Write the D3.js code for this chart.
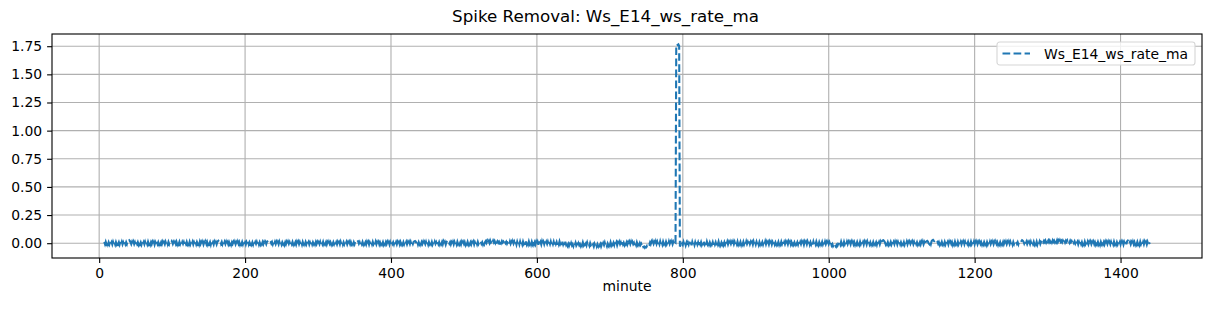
<!DOCTYPE html>
<html>
<head>
<meta charset="utf-8">
<script src="https://cdn.jsdelivr.net/npm/d3@7"></script>
<style>
  body { margin: 0; background: #fff; }
  svg { display: block; font-family: 'DejaVu Sans', sans-serif; }
</style>
</head>
<body>
<div id="chart"></div>
<script>
// values are in thousandths, one per minute starting at firstMinute
const firstMinute = 7;
const seriesName = 'Ws_E14_ws_rate_ma';

// minutes 7-529
const quietEarly = [
  11,-9,13,-7,10,-12,8,-10,14,-6,9,-11,12,-8,7,-13,10,-9,12,-7,
  9,-12,11,-6,13,-10,8,-11,12,-9,10,-7,18,24,28,20,9,-8,11,-10,
  12,-8,9,-13,11,-7,10,-11,13,-9,8,-12,11,-6,10,-10,12,-8,9,-11,
  13,-7,10,-12,9,-9,12,-6,11,-13,8,-10,14,-8,9,-11,12,-7,10,-9,
  11,-12,8,-9,13,-7,10,-11,12,-5,20,27,25,14,-6,10,-12,9,-8,12,
  -10,11,-7,13,-9,8,-12,11,-6,10,-13,9,-8,12,-10,7,-11,13,-9,10,
  -7,12,-11,9,-8,13,-10,11,-6,9,-12,14,-7,10,-9,12,-11,8,-10,13,
  -8,11,-12,9,-7,10,-13,12,-9,8,-11,13,-6,10,-10,12,20,26,29,21,
  -4,12,-10,9,-12,11,-7,13,-9,8,-11,10,-8,12,-13,9,-6,11,-10,12,
  -9,8,-11,13,-7,10,-12,9,-8,11,-10,13,-9,7,-12,10,-8,12,-11,9,
  -7,13,-10,8,-12,11,-9,10,-6,12,-11,9,-13,8,-10,12,-7,11,-9,10,
  -12,9,-8,13,20,27,30,24,15,-3,10,-11,8,-9,12,-7,11,-12,9,-10,
  13,-8,10,-11,9,-7,12,-13,8,-10,11,-9,13,-6,10,-12,9,-8,11,-10,
  12,-7,9,-12,11,-9,13,-8,10,-11,8,-13,12,-7,9,-10,11,-9,13,-6,
  10,-12,8,-9,12,-11,9,-7,13,-10,11,-8,10,-12,7,-9,12,-11,10,-8,
  13,-9,11,-7,10,-12,8,-10,12,-6,9,-11,13,-8,10,-9,11,-12,8,-10,
  12,-7,9,-11,13,-8,10,-12,9,-9,11,-6,12,-10,8,-13,10,-9,12,-7,
  11,-10,9,-8,16,23,28,25,17,-4,10,-12,9,-8,11,-10,13,-7,9,-11,
  12,-9,10,-13,8,-7,11,-10,12,-8,9,-12,13,-9,10,-6,11,-11,8,-10,
  13,-8,10,-12,9,-9,11,-7,12,-10,8,-13,10,-9,12,-6,9,-11,13,-8,
  10,-10,12,-7,9,-12,11,-8,13,-9,10,-11,8,-7,12,-10,9,-12,11,-8,
  13,-9,10,-7,12,16,20,14,-5,11,-12,9,-8,13,-10,10,-7,12,-11,9,
  -8,12,-10,9,-13,11,-7,10,-9,12,-11,8,-10,13,-6,9,-12,11,-8,10,
  -11,9,-7,12,-10,13,-8,10,-12,9,18,24,16,-3,10,-11,8,-9,12,-10,
  11,-8,9,-12,13,-7,10,-10,8,-11,12,-9,11,-6,10,-13,9,-8,12,-10,
  13,-9,8,-11,10,-7,12,-12,9,-8,11,-10,13,-7,10,19,16,-4,9,-11,
  12,-8,10
];

// minutes 530-560
const raisedMid = [
  20,4,22,6,19,2,24,8,21,5,23,7,20,3,25,9,18,4,12,-12,
  16,2,19,5,14,-3,17,1,13,-5,10
];

// minutes 561-789
const noisyMid = [
  12,-9,15,-6,11,-12,16,-4,13,-10,9,-13,14,-7,12,-11,15,-8,10,-12,
  14,-6,11,-13,16,-9,12,-10,15,-7,10,-12,13,-8,16,-11,9,-10,14,-6,
  12,-13,15,-8,10,-11,17,-5,13,-9,16,-12,11,-7,14,-10,12,-8,15,-11,
  10,-9,13,-12,15,-7,11,-14,12,-10,16,-6,9,-15,13,-11,8,-16,12,-13,
  2,-22,-6,-26,-9,-24,0,-20,-8,-27,-4,-18,3,-22,-10,-25,-2,-19,-7,-24,
  4,-16,8,-14,10,-12,-2,-20,6,-15,-4,-23,1,-18,-8,-26,-12,-30,-6,-22,
  -4,-28,-8,-25,2,-19,-6,-29,-10,-24,0,-17,5,-21,-9,-27,-3,-20,4,-18,
  8,-14,12,-10,6,-15,13,-8,9,-18,4,-12,11,-9,7,-16,10,-11,5,-14,
  12,-7,9,-13,6,-16,11,-8,13,-12,10,-9,3,-22,-1,-18,8,-13,5,-15,
  2,-17,-6,-26,-16,-35,-30,-41,-33,-36,-22,-28,-10,-14,6,-9,11,-12,14,-6,
  10,-11,15,-7,12,-13,9,-10,16,-8,11,-12,14,-6,10,-11,13,-9,8,-12,
  15,-7,11,-10,14,-8,12,-6,9
];

// minutes 790-795
const spike = [4, 1745, 1768, 1760, 1766, 1752];

// minutes 796-1440
const quietLate = [
  -30,-12,-24,-4,-16,
  10,-14,8,-18,4,-20,6,-12,13,-15,7,-19,11,-10,5,-17,9,-13,12,-11,
  8,-16,13,-9,10,-14,6,-18,12,-10,9,-15,14,-8,11,-13,7,-12,15,-9,
  10,-14,13,-11,8,-17,12,-9,14,-12,10,-15,7,-10,13,-13,9,-11,12,-8,
  14,-10,9,-13,12,-7,10,-15,13,-9,11,-12,8,-10,14,-11,9,-8,12,-13,
  10,-9,13,-11,8,-12,15,-7,10,-13,16,-8,11,-10,9,-12,14,-9,10,-11,
  13,-8,9,-14,11,-10,12,-7,10,-13,8,-11,15,-9,12,-10,9,-12,13,-8,
  11,-12,10,-9,14,-11,8,-10,16,-7,12,-13,9,-10,13,-8,11,-12,10,-9,
  12,-13,9,-10,14,-8,11,-12,10,-9,15,-11,8,-10,13,-7,9,-12,12,-10,
  10,-8,13,-11,9,-14,12,-9,11,-10,14,-8,16,-11,10,-9,13,-12,15,-7,
  11,-10,14,-8,12,-13,10,-9,17,-7,12,-11,9,-14,13,-8,10,-12,11,-9,
  8,-14,4,-20,-8,-28,-18,-36,-26,-33,-15,-24,-6,-12,9,-11,14,-8,10,-12,
  12,-9,10,-11,13,-8,11,-12,9,-10,14,-7,12,-10,9,-13,11,-8,12,-9,
  10,-12,13,-8,11,-10,9,-13,12,-9,10,-11,14,-7,12,-10,8,-12,13,-9,
  11,-10,12,-8,9,-13,13,-9,10,-11,12,-7,18,24,27,19,8,-9,12,-10,
  9,-12,13,-8,11,-10,12,-13,9,-9,14,-7,10,-12,11,-8,13,-10,9,-11,
  12,-9,10,-13,11,-8,14,-10,9,-12,12,-7,10,-11,13,-9,11,-10,12,-8,
  9,-12,13,-7,10,-11,12,-9,14,-10,8,-13,12,17,21,14,-2,-9,11,-8,
  18,26,30,22,20,28,31,21,14,-4,10,-11,15,-6,12,-9,10,-12,11,-10,
  13,-8,9,-12,12,-10,11,-7,10,-13,12,-9,14,-8,9,-11,12,-10,10,-9,
  12,-11,9,-8,13,-10,11,-12,10,-7,12,-13,9,-9,14,-8,10,-11,12,-10,
  11,-9,13,-10,9,-12,12,-7,10,-11,14,-9,11,-8,12,-13,10,-10,9,-11,
  13,-8,10,-12,12,-9,11,-10,14,-7,9,-13,12,-9,10,-11,13,-8,11,-10,
  9,-12,12,-9,10,-11,13,-8,12,-10,9,-13,11,-7,14,18,12,-5,10,-9,
  14,20,26,21,28,23,14,-4,11,-10,12,-8,10,-12,9,-9,13,-11,10,-8,
  12,-10,11,-9,13,-12,10,-8,14,-7,12,4,20,8,22,10,24,6,23,12,
  25,9,24,11,27,8,26,12,23,7,25,10,28,9,24,6,26,11,22,8,
  24,10,26,7,23,11,25,9,20,5,22,8,19,4,21,3,17,-2,15,-4,
  12,-10,11,-9,13,-8,10,-12,9,-11,14,-7,10,-13,12,-9,11,-10,13,-8,
  10,-11,12,-9,9,-12,13,-8,11,-10,10,-13,12,-7,14,-9,10,-11,12,-10,
  11,-8,13,-12,9,-10,12,-9,10,-11,14,-8,11,-12,9,-10,13,-7,10,-11,
  12,-9,10,-13,11,-8,14,-10,18,24,16,-4,12,-10,9,-11,13,-8,10,-12,
  11,-9,12,-10,9,-13,13,-8,10,-11,12,-9,14,-7,10,-12,11,-10,9,-8
];

const xTicks = [0, 200, 400, 600, 800, 1000, 1200, 1400];
const yTicks = [0, 0.25, 0.5, 0.75, 1.0, 1.25, 1.5, 1.75];

const data = quietEarly.concat(raisedMid, noisyMid, spike, quietLate)
  .map((v, i) => ({ minute: firstMinute + i, value: v / 1000 }));

const width = 1211;
const height = 311;
const margin = { top: 34, right: 9, bottom: 53, left: 52 };
const plotW = width - margin.left - margin.right;
const plotH = height - margin.top - margin.bottom;

// line widths in points at 100 dpi
const pt = 100 / 72;
const lineW = 1.5 * pt;
const dash = `${3.7 * lineW},${1.6 * lineW}`;

// matplotlib-style 5% padding around the data extent
const pad = (ext) => {
  const span = ext[1] - ext[0];
  return [ext[0] - span * 0.05, ext[1] + span * 0.05];
};

const x = d3.scaleLinear()
  .domain(pad(d3.extent(data, (d) => d.minute)))
  .range([0, plotW]);
const y = d3.scaleLinear()
  .domain(pad(d3.extent(data, (d) => d.value)))
  .range([plotH, 0]);

const svg = d3.select('#chart')
  .append('svg')
  .attr('width', width)
  .attr('height', height);

svg.append('text')
  .attr('x', width / 2)
  .attr('y', 22)
  .attr('text-anchor', 'middle')
  .attr('font-size', 16.7)
  .attr('fill', '#000')
  .text('Spike Removal: ' + seriesName);

const g = svg.append('g')
  .attr('transform', `translate(${margin.left},${margin.top})`);

// grid
g.append('g')
  .selectAll('line')
  .data(xTicks)
  .join('line')
  .attr('x1', (d) => x(d)).attr('x2', (d) => x(d))
  .attr('y1', 0).attr('y2', plotH)
  .attr('stroke', '#b0b0b0')
  .attr('stroke-width', 0.8 * pt);

g.append('g')
  .selectAll('line')
  .data(yTicks)
  .join('line')
  .attr('x1', 0).attr('x2', plotW)
  .attr('y1', (d) => y(d)).attr('y2', (d) => y(d))
  .attr('stroke', '#b0b0b0')
  .attr('stroke-width', 0.8 * pt);

const line = d3.line()
  .x((d) => x(d.minute))
  .y((d) => y(d.value));

g.append('path')
  .datum(data)
  .attr('fill', 'none')
  .attr('stroke', '#1f77b4')
  .attr('stroke-width', lineW)
  .attr('stroke-dasharray', dash)
  .attr('d', line);

// axes
const xAxis = g.append('g')
  .attr('transform', `translate(0,${plotH})`)
  .call(d3.axisBottom(x).tickValues(xTicks).tickFormat(d3.format('d'))
    .tickSize(4.9).tickPadding(4.9).tickSizeOuter(0));
const yAxis = g.append('g')
  .call(d3.axisLeft(y).tickValues(yTicks).tickFormat(d3.format('.2f'))
    .tickSize(4.9).tickPadding(4.9).tickSizeOuter(0));

[xAxis, yAxis].forEach((a) => {
  a.attr('font-family', 'DejaVu Sans, sans-serif').attr('font-size', 13.9);
  a.select('.domain').remove();
  a.selectAll('.tick line').attr('stroke', '#000').attr('stroke-width', 0.8 * pt);
  a.selectAll('.tick text').attr('fill', '#000');
});

g.append('rect')
  .attr('width', plotW)
  .attr('height', plotH)
  .attr('fill', 'none')
  .attr('stroke', '#000')
  .attr('stroke-width', 0.8 * pt);

g.append('text')
  .attr('x', plotW / 2)
  .attr('y', 290.5 - margin.top)
  .attr('text-anchor', 'middle')
  .attr('font-size', 13.9)
  .attr('fill', '#000')
  .text('minute');

// legend
const legend = svg.append('g').attr('transform', 'translate(997,42)');
legend.append('rect')
  .attr('width', 198)
  .attr('height', 23)
  .attr('rx', 2.8)
  .attr('fill', '#fff')
  .attr('fill-opacity', 0.8)
  .attr('stroke', '#d6d6d6')
  .attr('stroke-width', 0.8 * pt);
legend.append('line')
  .attr('x1', 5.5).attr('x2', 33)
  .attr('y1', 11.5).attr('y2', 11.5)
  .attr('stroke', '#1f77b4')
  .attr('stroke-width', lineW)
  .attr('stroke-dasharray', dash);
legend.append('text')
  .attr('x', 47)
  .attr('y', 16.5)
  .attr('font-size', 13.9)
  .attr('fill', '#000')
  .text(seriesName);
</script>
</body>
</html>
